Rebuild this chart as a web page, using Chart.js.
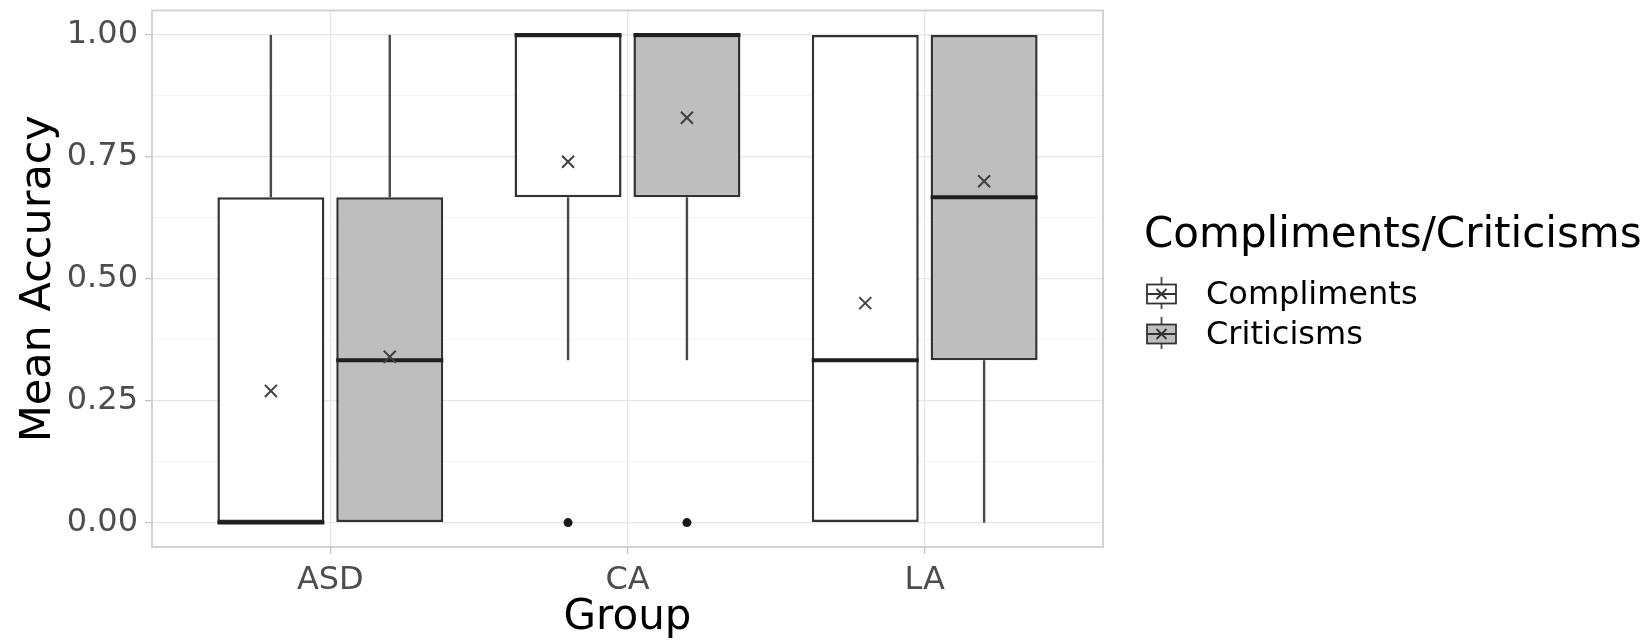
<!DOCTYPE html>
<html>
<head>
<meta charset="utf-8">
<script src="https://cdn.jsdelivr.net/npm/chart.js@4.4.1/dist/chart.umd.min.js"></script>
<style>
  html, body { margin: 0; padding: 0; background: #fff; }
  #wrap { width: 1644px; height: 643px; }
</style>
</head>
<body>
<div id="wrap"><canvas id="box-chart" width="1644" height="643"></canvas></div>
<script>
// groups on the x axis
const groups = ['ASD', 'CA', 'LA'];
const seriesNames = ['Compliments', 'Criticisms'];

// Compliments (white boxes)
const compMin = [0, 0.333, 0];
const compQ1 = [0, 0.667, 0];
const compMed = [0, 1, 0.333];
const compQ3 = [0.667, 1, 1];
const compMax = [1, 1, 1];
const compMean = [0.27, 0.74, 0.45];
const compOutliers = [[], [0], []];

// Criticisms (grey boxes)
const critMin = [0, 0.333, 0];
const critQ1 = [0, 0.667, 0.333];
const critMed = [0.333, 1, 0.667];
const critQ3 = [0.667, 1, 1];
const critMax = [1, 1, 1];
const critMean = [0.34, 0.83, 0.70];
const critOutliers = [[], [0], []];

const yTicks = [0, 0.25, 0.5, 0.75, 1];

const fills = ['#ffffff', '#bebebe'];
const CAT_PCT = 0.8;
const DODGE = CAT_PCT / 4; // centre of each box relative to the group

const stats = [
    { min: compMin, q1: compQ1, med: compMed, q3: compQ3, max: compMax },
    { min: critMin, q1: critQ1, med: critMed, q3: critQ3, max: critMax },
];

function isMajor(v) {
    return yTicks.some(t => Math.abs(t - v) < 1e-6);
}

function boxData(q1, q3) {
    return groups.map((g, i) => ({ x: i + 1, y: [q1[i], q3[i]] }));
}
function pointData(vals, shift) {
    return groups.map((g, i) => ({ x: i + 1 + shift, y: vals[i] }));
}
function outlierData() {
    let pts = [];
    [compOutliers, critOutliers].forEach((list, k) => {
        let shift = k == 0 ? -DODGE : DODGE;
        list.forEach((vals, i) => {
            vals.forEach(v => pts.push({ x: i + 1 + shift, y: v }));
        });
    });
    return pts;
}

const boxParts = {
    id: 'boxParts',
    beforeDatasetsDraw(chart) {
        const ctx = chart.ctx;
        const ys = chart.scales.y;
        ctx.save();
        ctx.strokeStyle = '#4a4a4a';
        ctx.lineWidth = 2.4;
        stats.forEach((s, k) => {
            const meta = chart.getDatasetMeta(k);
            meta.data.forEach((bar, i) => {
                ctx.beginPath();
                if (s.max[i] > s.q3[i]) {
                    ctx.moveTo(bar.x, ys.getPixelForValue(s.q3[i]));
                    ctx.lineTo(bar.x, ys.getPixelForValue(s.max[i]));
                }
                if (s.min[i] < s.q1[i]) {
                    ctx.moveTo(bar.x, ys.getPixelForValue(s.q1[i]));
                    ctx.lineTo(bar.x, ys.getPixelForValue(s.min[i]));
                }
                ctx.stroke();
            });
        });
        ctx.restore();
    },
    afterDatasetDraw(chart, args) {
        if (args.index > 1) return;
        const ctx = chart.ctx;
        const ys = chart.scales.y;
        const s = stats[args.index];
        ctx.save();
        ctx.strokeStyle = '#1f1f1f';
        ctx.lineWidth = 4;
        args.meta.data.forEach((bar, i) => {
            const py = ys.getPixelForValue(s.med[i]);
            ctx.beginPath();
            ctx.moveTo(bar.x - bar.width / 2, py);
            ctx.lineTo(bar.x + bar.width / 2, py);
            ctx.stroke();
        });
        ctx.restore();
    },
    afterDatasetsDraw(chart) {
        const ctx = chart.ctx;
        const a = chart.chartArea;
        ctx.save();
        ctx.strokeStyle = '#cfcfcf';
        ctx.lineWidth = 1.8;
        ctx.strokeRect(a.left, a.top, a.right - a.left, a.bottom - a.top);
        ctx.restore();
    },
    afterDraw(chart) {
        // legend drawn by hand, ggplot style
        const ctx = chart.ctx;
        ctx.save();
        ctx.fillStyle = '#000';
        ctx.font = "42px 'DejaVu Sans'";
        ctx.textBaseline = 'alphabetic';
        ctx.fillText('Compliments/Criticisms', 1144, 247);
        ctx.font = "32px 'DejaVu Sans'";
        ctx.textBaseline = 'middle';
        const rows = [294, 334];
        seriesNames.forEach((name, k) => {
            const cy = rows[k];
            const x0 = 1147, w = 29, cx = x0 + w / 2;
            ctx.strokeStyle = '#4d4d4d';
            ctx.lineWidth = 1.8;
            ctx.beginPath();
            ctx.moveTo(cx, cy - 17);
            ctx.lineTo(cx, cy + 15);
            ctx.stroke();
            ctx.fillStyle = fills[k];
            ctx.fillRect(x0, cy - 9.5, w, 19);
            ctx.strokeStyle = '#333';
            ctx.strokeRect(x0, cy - 9.5, w, 19);
            ctx.beginPath();
            ctx.moveTo(x0, cy);
            ctx.lineTo(x0 + w, cy);
            ctx.moveTo(cx - 5, cy - 5);
            ctx.lineTo(cx + 5, cy + 5);
            ctx.moveTo(cx + 5, cy - 5);
            ctx.lineTo(cx - 5, cy + 5);
            ctx.stroke();
            ctx.fillStyle = '#000';
            ctx.fillText(name, 1206, cy + 2);
        });
        ctx.restore();
    },
};

Chart.defaults.font.family = "'DejaVu Sans'";

const ctx = document.getElementById('box-chart');
const chart = new Chart(ctx, {
    type: 'bar',
    data: {
        datasets: [
            {
                label: seriesNames[0],
                data: boxData(compQ1, compQ3),
                backgroundColor: fills[0],
                borderColor: '#333',
                borderWidth: 2.5,
                borderSkipped: false,
                order: 3,
            },
            {
                label: seriesNames[1],
                data: boxData(critQ1, critQ3),
                backgroundColor: fills[1],
                borderColor: '#333',
                borderWidth: 2.5,
                borderSkipped: false,
                order: 3,
            },
            {
                type: 'scatter',
                label: 'mean ' + seriesNames[0],
                data: pointData(compMean, -DODGE),
                pointStyle: 'crossRot',
                radius: 8.5,
                borderColor: '#404040',
                borderWidth: 2,
                order: 1,
            },
            {
                type: 'scatter',
                label: 'mean ' + seriesNames[1],
                data: pointData(critMean, DODGE),
                pointStyle: 'crossRot',
                radius: 8.5,
                borderColor: '#404040',
                borderWidth: 2,
                order: 1,
            },
            {
                type: 'scatter',
                label: 'outliers',
                data: outlierData(),
                pointStyle: 'circle',
                radius: 4.5,
                backgroundColor: '#1a1a1a',
                borderColor: '#1a1a1a',
                borderWidth: 0,
                order: 1,
            },
        ],
    },
    options: {
        responsive: false,
        animation: false,
        datasets: { bar: { categoryPercentage: CAT_PCT, barPercentage: 0.9 } },
        layout: { padding: { top: 10, right: 541, left: 0, bottom: 0 } },
        scales: {
            x: {
                type: 'linear',
                min: 0.4,
                max: 3.6,
                offset: false,
                afterBuildTicks: (scale) => {
                    scale.ticks = groups.map((g, i) => ({ value: i + 1 }));
                },
                afterFit: (scale) => {
                    scale.height = 96;
                    scale.paddingLeft = 0;
                    scale.paddingRight = 0;
                },
                ticks: {
                    autoSkip: false,
                    padding: 7,
                    color: '#4d4d4d',
                    font: { size: 32 },
                    callback: (v) => groups[Math.round(v) - 1],
                },
                grid: { color: '#e6e6e6', lineWidth: 1.3, tickLength: 7, tickColor: '#c4c4c4', offset: false },
                border: { display: false },
                title: { display: true, text: 'Group', color: '#000', font: { size: 42 }, padding: { top: 0, bottom: 0 } },
            },
            y: {
                min: -0.05,
                max: 1.05,
                afterFit: (scale) => {
                    scale.width = 152;
                    scale.paddingTop = 0;
                    scale.paddingBottom = 0;
                },
                ticks: {
                    stepSize: 0.125,
                    includeBounds: false,
                    autoSkip: false,
                    padding: 7,
                    color: '#4d4d4d',
                    font: { size: 32 },
                    callback: (v) => isMajor(v) ? v.toFixed(2) : '',
                },
                grid: {
                    color: (c) => isMajor(c.tick.value) ? '#e6e6e6' : '#f3f3f3',
                    lineWidth: (c) => isMajor(c.tick.value) ? 1.3 : 1,
                    tickLength: 7,
                    tickColor: (c) => isMajor(c.tick.value) ? '#c4c4c4' : 'rgba(0,0,0,0)',
                },
                border: { display: false },
                title: { display: true, text: 'Mean Accuracy', color: '#000', font: { size: 43 }, padding: { top: 13, bottom: 0 } },
            },
        },
        plugins: {
            legend: { display: false },
            tooltip: { enabled: false },
        },
    },
    plugins: [boxParts],
});
</script>
</body>
</html>
